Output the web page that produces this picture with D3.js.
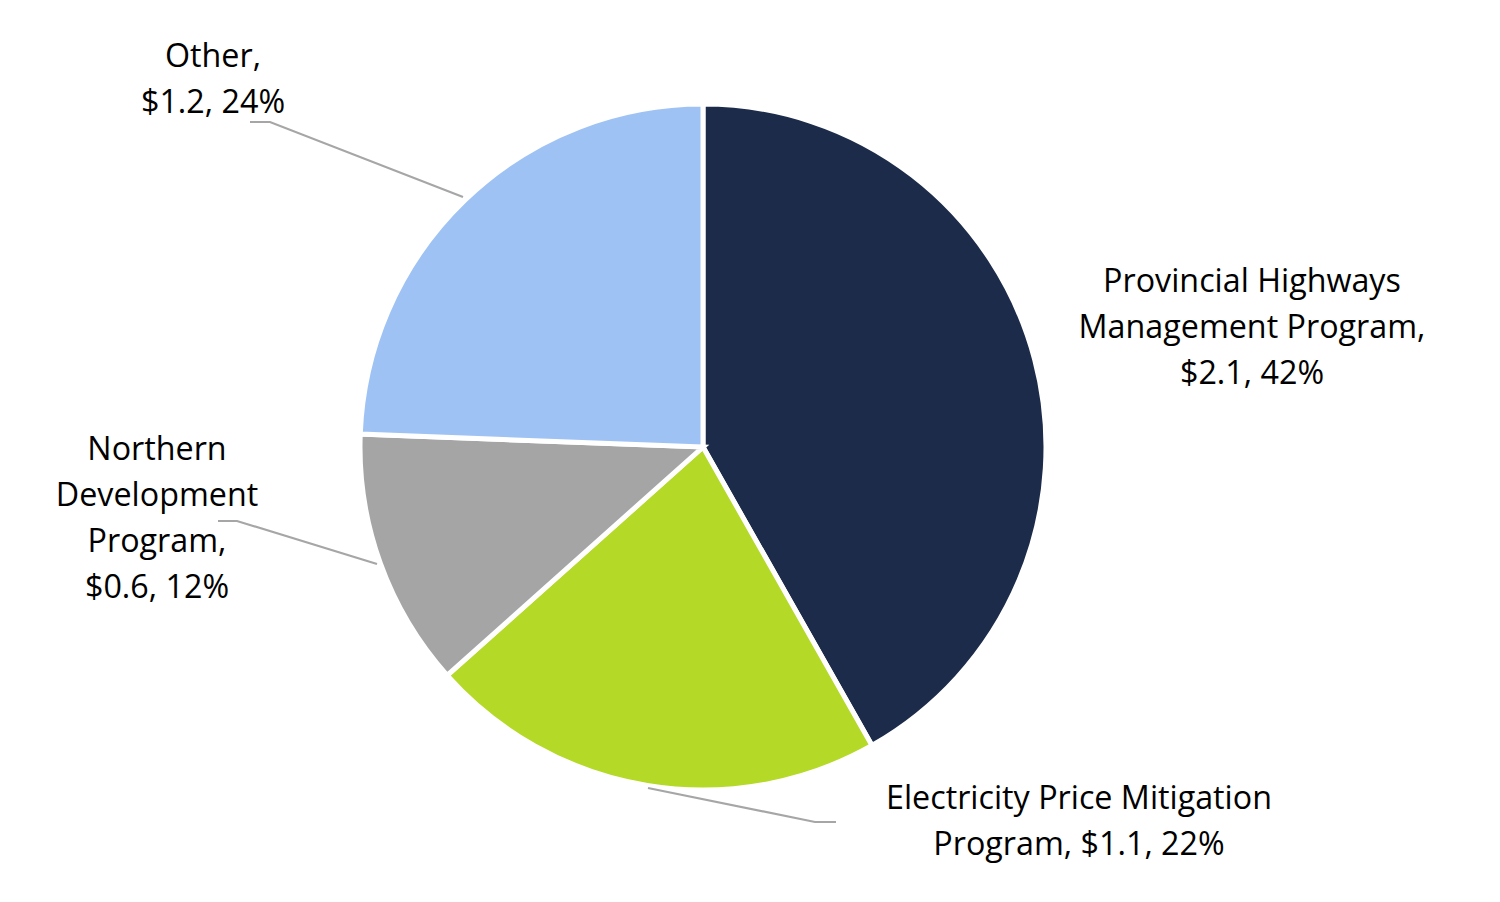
<!DOCTYPE html>
<html><head><meta charset="utf-8">
<script src="https://cdn.jsdelivr.net/npm/d3@7"></script>
<style>html,body{margin:0;padding:0;background:#fff;}</style>
</head><body>
<svg id="c" width="1500" height="902"></svg>
<script>
const categories = ["Provincial Highways Management Program", "Electricity Price Mitigation Program", "Northern Development Program", "Other"];
// underlying values (labels show rounded figures)
const values = [2.09, 1.08, 0.61, 1.22];
const valueLabels = ["$2.1", "$1.1", "$0.6", "$1.2"];
const percents = [42, 22, 12, 24];
const labelLines = [
  ["Provincial Highways", "Management Program,", "$2.1, 42%"],
  ["Electricity Price Mitigation", "Program, $1.1, 22%"],
  ["Northern", "Development", "Program,", "$0.6, 12%"],
  ["Other,", "$1.2, 24%"]
];
const colors = ["#1c2b4a", "#b4d927", "#a5a5a5", "#9fc2f5"];

const svg = d3.select("#c");
const cx = 703, cy = 447, R = 343;
const font = "'Open Sans', 'Noto Sans', sans-serif";

const probe = svg.append("text").attr("font-family", font).attr("font-size", 100).text("Provincial Highways");
const w100 = probe.node().getComputedTextLength();
probe.remove();
const fs = 100 * 298 / w100;

const pie = d3.pie().sort(null).value(d => d)(values);
const arc = d3.arc().innerRadius(0).outerRadius(R);
const g = svg.append("g").attr("transform", `translate(${cx},${cy})`);
g.selectAll("path").data(pie).join("path")
  .attr("d", arc).attr("fill", (d, i) => colors[i])
  .attr("stroke", "#fff").attr("stroke-width", 5).attr("stroke-linejoin", "miter");

const leaders = [
  null,
  [[648, 788], [815, 822], [836, 822]],
  [[218, 521], [237, 521], [377, 564]],
  [[250, 122], [270, 122], [463, 197]]
];
svg.selectAll("path.leader").data(leaders.filter(d => d)).join("path")
  .attr("class", "leader")
  .attr("d", d => d3.line()(d))
  .attr("fill", "none").attr("stroke", "#a6a6a6").attr("stroke-width", 2.2);

const labelPos = [[1252, 280], [1079, 797], [157, 448], [213, 55]];
const lh = 46;
labelLines.forEach((lines, i) => {
  const t = svg.append("text").attr("font-family", font).attr("font-size", fs)
    .attr("fill", "#000").attr("text-anchor", "middle");
  lines.forEach((ln, j) => {
    t.append("tspan").attr("x", labelPos[i][0]).attr("y", labelPos[i][1] + j * lh + fs * 0.36).text(ln);
  });
});
</script>
</body></html>
